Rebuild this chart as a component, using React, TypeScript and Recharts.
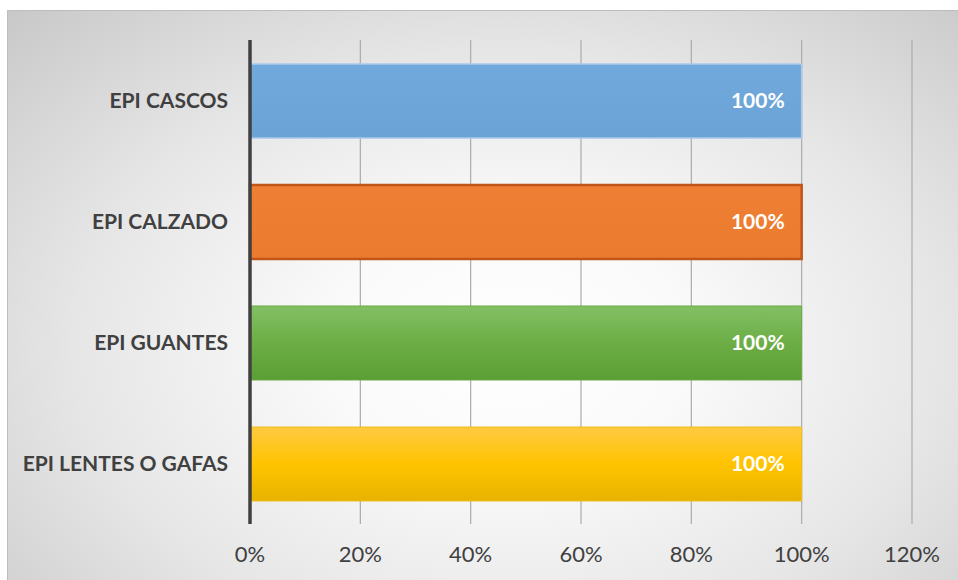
import { BarChart, Bar, XAxis, YAxis, CartesianGrid, Cell, LabelList } from 'recharts';

// datos del gráfico
const categorias = ['EPI CASCOS', 'EPI CALZADO', 'EPI GUANTES', 'EPI LENTES O GAFAS'];
const valores = [1, 1, 1, 1];
const ticksX = [0, 0.2, 0.4, 0.6, 0.8, 1, 1.2];

const data = categorias.map((name, i) => ({ name, value: valores[i] }));

const rellenos = ['url(#gAzul)', 'url(#gNaranja)', 'url(#gVerde)', 'url(#gAmarillo)'];
const bordes = ['#a9c9ea', '#c0561a', '#6aaa45', '#f0bc1a'];
const anchos = [1.5, 2.5, 1, 1];

const pct = (v: number) => `${Math.round(v * 100)}%`;
const fuente = 'Lato, Carlito, Calibri, sans-serif';

export default function App() {
  return (
    <div style={{ position: 'absolute', left: 0, top: 0, width: 958, height: 580, overflow: 'hidden', background: '#fff' }}>
      <div
        style={{
          position: 'absolute', left: 7, top: 10, width: 960, height: 580,
          border: '1.5px solid #bdbdbd',
          background: 'radial-gradient(ellipse 75% 85% at 52% 58%, #ffffff 0%, #fafafa 25%, #e6e6e6 60%, #c6c6c6 100%)',
        }}
      />
      <div style={{ position: 'absolute', left: 0, top: 0 }}>
        <BarChart
          width={958}
          height={580}
          data={data}
          layout="vertical"
          margin={{ top: 40, right: 46, bottom: 0, left: 0 }}
          style={{ fontFamily: fuente }}
        >
          <defs>
            <linearGradient id="gAzul" x1="0" y1="0" x2="0" y2="1">
              <stop offset="0%" stopColor="#72a9dc" />
              <stop offset="100%" stopColor="#6ca3d6" />
            </linearGradient>
            <linearGradient id="gNaranja" x1="0" y1="0" x2="0" y2="1">
              <stop offset="0%" stopColor="#ee7f34" />
              <stop offset="100%" stopColor="#eb7b2e" />
            </linearGradient>
            <linearGradient id="gVerde" x1="0" y1="0" x2="0" y2="1">
              <stop offset="0%" stopColor="#83bf64" />
              <stop offset="50%" stopColor="#6cae45" />
              <stop offset="100%" stopColor="#5b9e33" />
            </linearGradient>
            <linearGradient id="gAmarillo" x1="0" y1="0" x2="0" y2="1">
              <stop offset="0%" stopColor="#ffca42" />
              <stop offset="50%" stopColor="#ffc300" />
              <stop offset="100%" stopColor="#e8b300" />
            </linearGradient>
          </defs>
          <CartesianGrid horizontal={false} stroke="#ababab" strokeWidth={1.2} />
          <XAxis
            type="number"
            domain={[0, 1.2]}
            ticks={ticksX}
            tickFormatter={pct}
            axisLine={false}
            tickLine={false}
            tickSize={0}
            tickMargin={22}
            height={56}
            tick={{ fill: '#404040', fontSize: 22, fontFamily: fuente }}
          />
          <YAxis
            type="category"
            dataKey="name"
            width={250}
            axisLine={{ stroke: '#404040', strokeWidth: 3.5 }}
            tickLine={false}
            tickSize={0}
            tickMargin={22}
            tick={{ fill: '#404040', fontSize: 21, fontWeight: 700, fontFamily: fuente }}
          />
          <Bar dataKey="value" barSize={74} isAnimationActive={false}>
            {data.map((d, i) => (
              <Cell key={d.name} fill={rellenos[i]} stroke={bordes[i]} strokeWidth={anchos[i]} />
            ))}
            <LabelList
              dataKey="value"
              position="insideRight"
              offset={17}
              formatter={(v: any) => pct(Number(v))}
              style={{ fill: '#ffffff', fontSize: 21, fontWeight: 700, fontFamily: fuente }}
            />
          </Bar>
        </BarChart>
      </div>
    </div>
  );
}
